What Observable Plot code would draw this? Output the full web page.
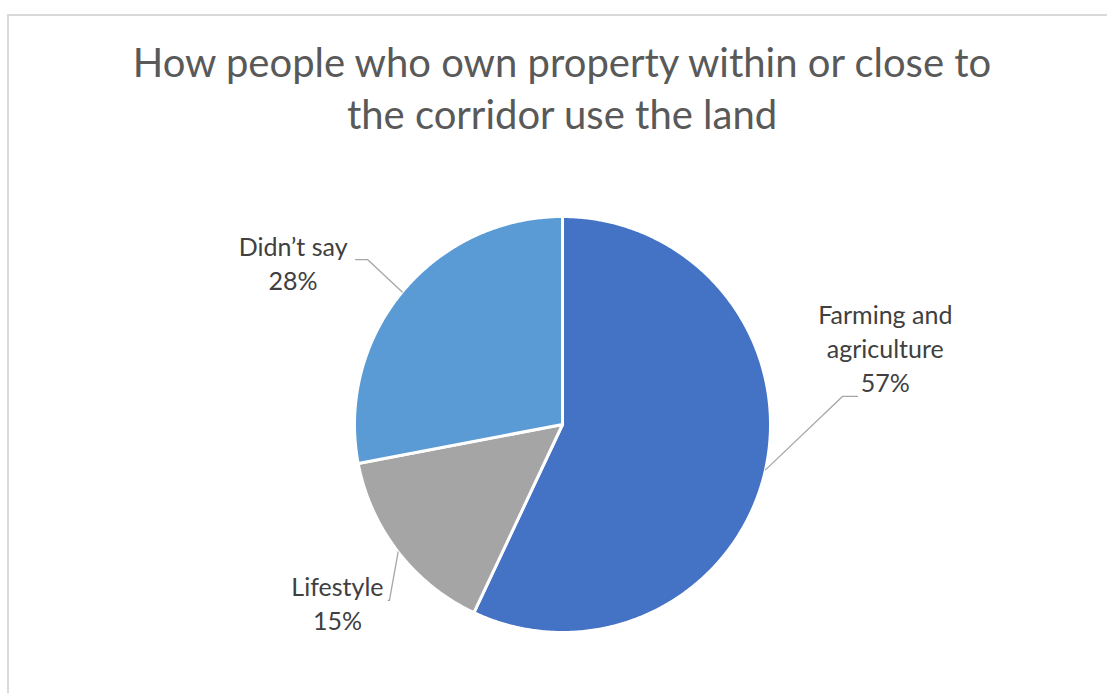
<!DOCTYPE html>
<html><head><meta charset="utf-8">
<script src="https://cdn.jsdelivr.net/npm/d3@7"></script>
<script src="https://cdn.jsdelivr.net/npm/@observablehq/plot@0.6"></script>
<style>
body{margin:0;background:#fff;}
#wrap{position:relative;width:1107px;height:693px;overflow:hidden;font-family:Lato,"Open Sans",sans-serif;}
#frame{position:absolute;left:7px;top:14px;width:1130px;height:710px;border:2px solid #d9d9d9;box-sizing:border-box;}
#title{position:absolute;left:8px;width:1108px;top:36px;text-align:center;font-size:40px;line-height:52px;color:#595959;}
#chart{position:absolute;left:0;top:0;}
</style></head><body>
<div id="wrap"><div id="frame"></div><div id="title">How people who own property within or close to<br>the corridor use the land</div><div id="chart"></div></div>
<script>
// ---- data ----
const categories = ["Farming and agriculture", "Lifestyle", "Didn’t say"];
const values = [57, 15, 28];
const percentLabels = ["57%", "15%", "28%"];
const labelLines = [["Farming and", "agriculture"], ["Lifestyle"], ["Didn’t say"]];

// ---- style / layout (not data) ----
const colors = ["#4472C4", "#A5A5A5", "#5B9BD5"];
// label anchor and leader elbow/end, in pie-radius units relative to centre
const labelLayout = [
  {tx: 1.552, ty: 0.370, elbow: [1.346, 0.135], end: [1.418, 0.135]},
  {tx: -1.082, ty: -0.856, elbow: [-0.832, -0.846], end: [-0.838, -0.846]},
  {tx: -1.295, ty: 0.779, elbow: [-0.9375, 0.793], end: [-0.995, 0.793]}
];

const pie = d3.pie().sort(null).value(d => d)(values);
const toXY = (a, r = 1) => [r * Math.sin(a), r * Math.cos(a)];

const slicePts = [];
pie.forEach((p, i) => {
  slicePts.push({cat: categories[i], x: 0, y: 0});
  const n = Math.max(2, Math.ceil((p.endAngle - p.startAngle) / (Math.PI / 360)));
  for (let k = 0; k <= n; k++) {
    const a = p.startAngle + (p.endAngle - p.startAngle) * k / n;
    const [x, y] = toXY(a);
    slicePts.push({cat: categories[i], x, y});
  }
});

const leaderPts = [];
pie.forEach((p, i) => {
  const mid = (p.startAngle + p.endAngle) / 2;
  const [ex, ey] = toXY(mid);
  const L = labelLayout[i];
  leaderPts.push({cat: categories[i], x: ex, y: ey});
  leaderPts.push({cat: categories[i], x: L.elbow[0], y: L.elbow[1]});
  leaderPts.push({cat: categories[i], x: L.end[0], y: L.end[1]});
});

const labelRows = categories.map((c, i) => ({
  cat: c,
  x: labelLayout[i].tx,
  y: labelLayout[i].ty,
  text: [...labelLines[i], percentLabels[i]].join("\n")
}));

const chart = Plot.plot({
  width: 1107,
  height: 693,
  marginLeft: 354,
  marginRight: 337,
  marginTop: 216,
  marginBottom: 61,
  style: {background: "transparent", overflow: "visible"},
  x: {domain: [-1, 1], axis: null},
  y: {domain: [-1, 1], axis: null},
  color: {domain: categories, range: colors},
  marks: [
    Plot.line(slicePts, {x: "x", y: "y", z: "cat", fill: "cat", stroke: "white", strokeWidth: 3, curve: "linear-closed", strokeLinejoin: "round"}),
    Plot.line(leaderPts, {x: "x", y: "y", z: "cat", stroke: "#a6a6a6", strokeWidth: 1.3}),
    Plot.text(labelRows, {x: "x", y: "y", text: "text", fill: "#404040", fontSize: 25, lineHeight: 34 / 25, textAnchor: "middle", fontFamily: "Lato, sans-serif"})
  ]
});
document.getElementById("chart").appendChild(chart);
</script>
</body></html>
